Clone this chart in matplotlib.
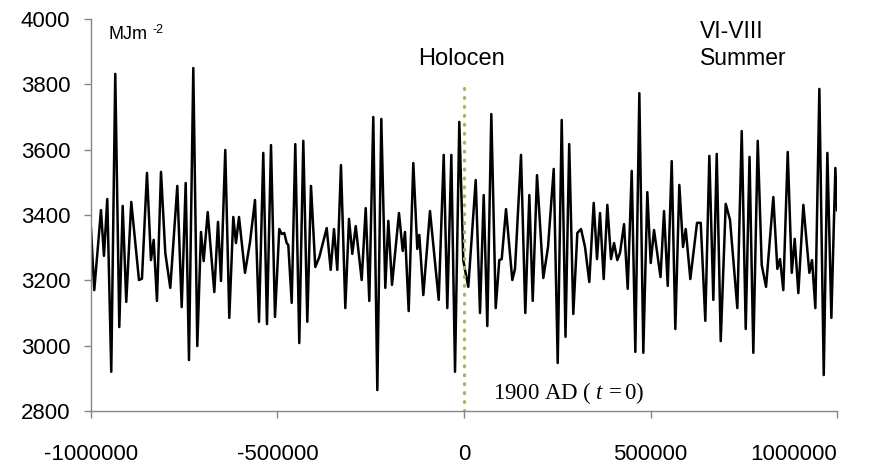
import matplotlib
matplotlib.use('Agg')
from matplotlib import pyplot as plt
from matplotlib.ticker import FixedLocator, FuncFormatter

# summer (VI-VIII) insolation
years = [
    -1000000, -991200, -973200, -965200, -956300, -945600, -934900, -924100, -915000, -905400,
    -892000, -871300, -863300, -849900, -839200, -831900, -823100, -812300, -800800, -787400,
    -768600, -756800, -746100, -737300, -725700, -715000, -705100, -697900, -687100, -669400,
    -659500, -651500, -640000, -629200, -618500, -611300, -603200, -587100, -573700, -560300,
    -549600, -538100, -528200, -517400, -506700, -495200, -488700, -481800, -475300, -471000,
    -461900, -452300, -441600, -430800, -420100, -410200, -398700, -387900, -368100, -357400,
    -348500, -339700, -329800, -318200, -308300, -299500, -290300, -274300, -263500, -253900,
    -243200, -232400, -221700, -211000, -202900, -193000, -174300, -164300, -158200, -148300,
    -135900, -125200, -119800, -109100, -91200, -67800, -54400, -44800, -34000, -24100,
    -12600, -1900, 2700, 11500, 31400, 42900, 52800, 62500, 73200, 85000,
    94600, 101100, 112600, 129500, 136700, 152800, 164300, 175100, 184200, 195700,
    212600, 225200, 240500, 251200, 261900, 272100, 282000, 293000, 303800, 313700,
    324400, 335900, 347700, 356600, 364600, 374500, 384200, 394100, 402200, 411000,
    418200, 429000, 438900, 449600, 459300, 470000, 480700, 491400, 500500, 509400,
    526800, 536200, 546100, 556800, 566500, 577200, 587100, 594400, 606700, 624700,
    634600, 646900, 657700, 668400, 677500, 688200, 701600, 713100, 732700, 744500,
    755200, 765400, 775600, 787400, 798100, 809700, 829200, 840000, 847200, 856000,
    867800, 878600, 886600, 896300, 909700, 925800, 933000, 941900, 952600, 964400,
    974100, 984800, 995500, 1000000,
]
insolation = [
    3360, 3170, 3415, 3275, 3449, 2920, 3832, 3057, 3428, 3134,
    3440, 3201, 3205, 3529, 3262, 3324, 3137, 3532, 3284, 3177,
    3489, 3118, 3498, 2956, 3850, 2999, 3348, 3259, 3409, 3164,
    3379, 3198, 3599, 3085, 3394, 3314, 3394, 3223, 3317, 3446,
    3073, 3590, 3066, 3614, 3088, 3357, 3342, 3345, 3314, 3308,
    3131, 3617, 3008, 3627, 3073, 3489, 3241, 3271, 3360, 3232,
    3357, 3232, 3553, 3115, 3388, 3281, 3366, 3201, 3421, 3137,
    3700, 2864, 3694, 3177, 3382, 3186, 3406, 3290, 3348, 3106,
    3559, 3296, 3339, 3155, 3412, 3140, 3584, 3115, 3584, 2920,
    3685, 3262, 3232, 3180, 3507, 3100, 3461, 3060, 3709, 3115,
    3262, 3265, 3418, 3201, 3235, 3584, 3100, 3461, 3137, 3522,
    3207, 3302, 3541, 2947, 3691, 3027, 3617, 3097, 3345, 3357,
    3302, 3195, 3437, 3265, 3406, 3204, 3431, 3265, 3314, 3262,
    3284, 3372, 3174, 3535, 2981, 3773, 2978, 3470, 3253, 3354,
    3210, 3412, 3183, 3565, 3051, 3492, 3302, 3357, 3204, 3376,
    3376, 3076, 3581, 3140, 3587, 3014, 3434, 3385, 3115, 3657,
    3051, 3578, 2978, 3627, 3247, 3180, 3455, 3235, 3265, 3170,
    3593, 3223, 3327, 3161, 3431, 3223, 3262, 3115, 3786, 2910,
    3590, 3085, 3544, 3415,
]

x_ticks = [-1000000, -500000, 0, 500000, 1000000]
y_ticks = [2800, 3000, 3200, 3400, 3600, 3800, 4000]
holocene_x = [0, 0]
holocene_y = [2800, 3800]

axis_grey = '#868686'
sans = 'Liberation Sans'
serif = 'Liberation Serif'

plt.rcParams['mathtext.fontset'] = 'custom'
plt.rcParams['mathtext.rm'] = serif
plt.rcParams['mathtext.it'] = serif + ':italic'

fig = plt.figure(figsize=(8.85, 4.68), dpi=100)
ax = fig.add_axes([0.1028, 0.1218, 0.8430, 0.8376])

ax.plot(years, insolation, color='black', lw=1.8, solid_joinstyle='round', zorder=2)
ax.plot(holocene_x, holocene_y, color='#9bbb59', lw=2.3,
        linestyle=(0, (0.3, 2.5)), dash_capstyle='round', zorder=3)

ax.set_xlim(x_ticks[0], x_ticks[-1])
ax.set_ylim(y_ticks[0], y_ticks[-1])
ax.xaxis.set_major_locator(FixedLocator(x_ticks))
ax.yaxis.set_major_locator(FixedLocator(y_ticks))
ax.xaxis.set_major_formatter(FuncFormatter(lambda v, p: '{:d}'.format(int(v))))
ax.yaxis.set_major_formatter(FuncFormatter(lambda v, p: '{:d}'.format(int(v))))

for side in ['top', 'right']:
    ax.spines[side].set_visible(False)
for side in ['left', 'bottom']:
    ax.spines[side].set_color(axis_grey)
    ax.spines[side].set_linewidth(1.0)

ax.tick_params(axis='both', direction='out', length=5, width=1.0, color=axis_grey,
               labelsize=16, labelcolor='black')
ax.tick_params(axis='y', pad=10)
ax.tick_params(axis='x', pad=19)
for lbl in ax.get_xticklabels() + ax.get_yticklabels():
    lbl.set_fontfamily(sans)
# the last x label is kept inside the picture, as in the original
ax.get_xticklabels()[-1].set_horizontalalignment('right')

# annotations
ax.text(0.023, 0.948, 'MJm', transform=ax.transAxes, fontsize=13, family=sans,
        va='baseline', ha='left')
ax.text(0.082, 0.964, '-2', transform=ax.transAxes, fontsize=9, family=sans,
        va='baseline', ha='left')
ax.text(-8000, 3843, 'Holocen', fontsize=17, family=sans, ha='center', va='bottom')
ax.text(0.816, 0.997, 'VI-VIII\nSummer', transform=ax.transAxes, fontsize=16.5,
        family=sans, va='top', ha='left', linespacing=1.2)
ax.text(78000, 2838, r'$\mathrm{1900\ AD\ }\mathit{(\ t}\mathrm{\,=0)}$', fontsize=16.5,
        ha='left', va='baseline')

plt.savefig('out.png', dpi=100)
plt.close()
